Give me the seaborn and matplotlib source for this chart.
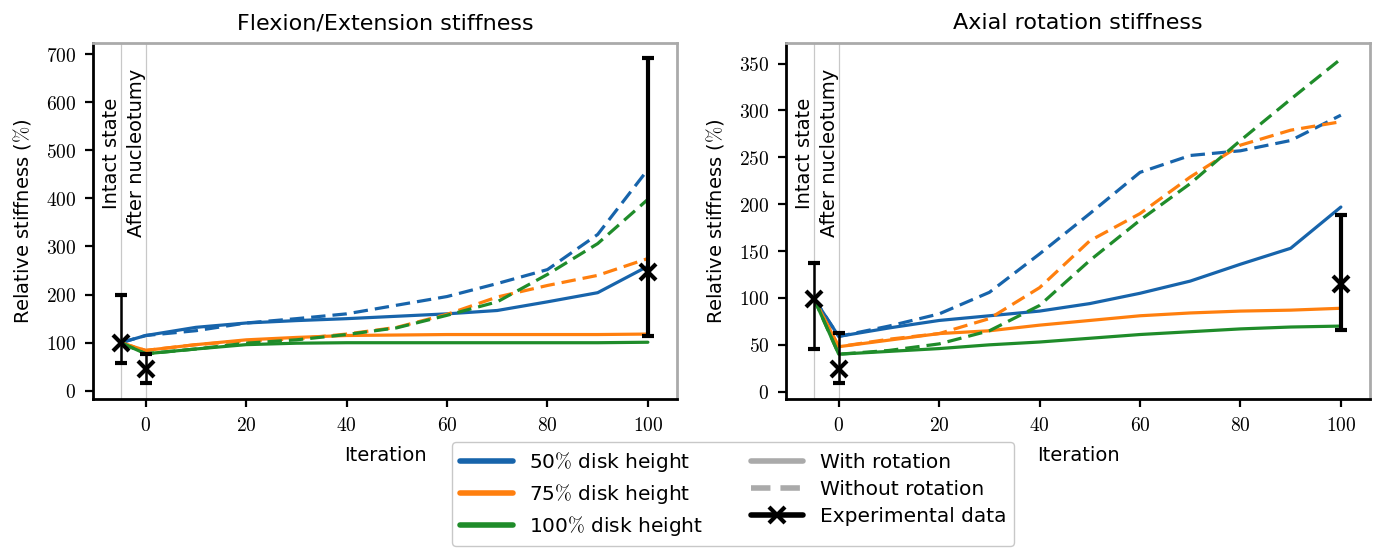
import matplotlib
matplotlib.use("Agg")
import matplotlib.pyplot as plt
from matplotlib.lines import Line2D
from matplotlib.ticker import FuncFormatter
import seaborn as sns
import pandas as pd

iterations = [-5, 0, 10, 20, 30, 40, 50, 60, 70, 80, 90, 100]
heights = ["50", "75", "100"]

# Flexion / Extension
fe_50_rot = [100, 115, 132, 141, 146, 150, 155, 160, 167, 185, 204, 259]
fe_50_norot = [100, 115, 125, 141, 150, 160, 178, 196, 223, 252, 325, 460]
fe_75_rot = [100, 84, 96, 106, 111, 115, 116, 117, 117, 117, 117, 118]
fe_75_norot = [100, 84, 96, 104, 108, 118, 132, 159, 195, 219, 240, 275]
fe_100_rot = [100, 77, 87, 96, 99, 100, 100, 100, 100, 100, 100, 101]
fe_100_norot = [100, 77, 87, 99, 106, 117, 131, 157, 185, 242, 306, 398]

# Axial rotation
ar_50_rot = [100, 59, 68, 76, 81, 86, 94, 105, 118, 136, 153, 197]
ar_50_norot = [100, 59, 70, 83, 106, 147, 190, 234, 252, 257, 268, 295]
ar_75_rot = [100, 48, 55, 62, 65, 71, 76, 81, 84, 86, 87, 89]
ar_75_norot = [100, 48, 56, 62, 78, 111, 161, 190, 229, 263, 279, 288]
ar_100_rot = [100, 40, 43, 46, 50, 53, 57, 61, 64, 67, 69, 70]
ar_100_norot = [100, 40, 44, 51, 65, 92, 140, 183, 222, 268, 312, 355]

# experimental data (mean, lower, upper)
exp_x = [-5, 0, 100]
fe_exp = [100, 45, 247]
fe_exp_low = [57, 17, 113]
fe_exp_high = [199, 77, 691]
ar_exp = [99, 24, 115]
ar_exp_low = [46, 9, 66]
ar_exp_high = [137, 63, 189]


def make_df(series):
    rows = []
    for (h, rot), vals in series.items():
        for it, v in zip(iterations, vals):
            rows.append({"iteration": it, "value": v, "height": h, "rotation": rot})
    return pd.DataFrame(rows)


fe_df = make_df({
    ("50", "With"): fe_50_rot, ("50", "Without"): fe_50_norot,
    ("75", "With"): fe_75_rot, ("75", "Without"): fe_75_norot,
    ("100", "With"): fe_100_rot, ("100", "Without"): fe_100_norot,
})
ar_df = make_df({
    ("50", "With"): ar_50_rot, ("50", "Without"): ar_50_norot,
    ("75", "With"): ar_75_rot, ("75", "Without"): ar_75_norot,
    ("100", "With"): ar_100_rot, ("100", "Without"): ar_100_norot,
})

sns.set_style("white")
plt.rcParams["font.family"] = ["DejaVu Sans"]
plt.rcParams["mathtext.fontset"] = "cm"
plt.rcParams["text.color"] = "black"
plt.rcParams["axes.labelcolor"] = "black"
plt.rcParams["xtick.color"] = "black"
plt.rcParams["ytick.color"] = "black"

colors = ["#1764ab", "#ff7f0e", "#1f8c2a"]
palette = dict(zip(heights, colors))
dashes = {"With": "", "Without": (4.5, 2.2)}

fig = plt.figure(figsize=(13.78, 5.49), dpi=100)
ax1 = fig.add_axes([0.0675, 0.2732, 0.4238, 0.6485])
ax2 = fig.add_axes([0.5704, 0.2732, 0.4238, 0.6485])

panels = [
    (ax1, fe_df, "Flexion/Extension stiffness", (-17, 723), range(0, 701, 100),
     fe_exp, fe_exp_low, fe_exp_high),
    (ax2, ar_df, "Axial rotation stiffness", (-7.8, 372), range(0, 351, 50),
     ar_exp, ar_exp_low, ar_exp_high),
]

for ax, df, title, ylim, yticks, ex, lo, hi in panels:
    ax.axvline(-5, color="#c8c8c8", lw=0.9, zorder=0)
    ax.axvline(0, color="#c8c8c8", lw=0.9, zorder=0)
    sns.lineplot(data=df, x="iteration", y="value", hue="height", style="rotation",
                 palette=palette, dashes=dashes, hue_order=heights,
                 lw=2.3, legend=False, ax=ax, zorder=3)
    # experimental data
    for i in range(len(exp_x)):
        ew = 3 if exp_x[i] == 100 else 1.8
        ax.errorbar([exp_x[i]], [ex[i]], yerr=[[ex[i] - lo[i]], [hi[i] - ex[i]]],
                    fmt="x", color="black", ms=12, mew=3, elinewidth=ew,
                    capsize=4, capthick=1.8, zorder=5)
    ax.text(-5, 0.69, "Intact state", rotation=90, ha="right", va="center",
            fontsize=14, transform=ax.get_xaxis_transform())
    ax.text(0, 0.69, "After nucleotumy", rotation=90, ha="right", va="center",
            fontsize=14, transform=ax.get_xaxis_transform())
    ax.set_xlim(-10.5, 105.8)
    ax.set_ylim(*ylim)
    ax.set_xticks([0, 20, 40, 60, 80, 100])
    ax.set_yticks(list(yticks))
    fmt = FuncFormatter(lambda v, p: f"${v:g}$")
    ax.xaxis.set_major_formatter(fmt)
    ax.yaxis.set_major_formatter(fmt)
    ax.tick_params(axis="both", direction="out", length=6, width=1.6,
                   color="black", labelsize=14, pad=6, left=True, bottom=True)
    ax.set_title(title, fontsize=16, pad=10)
    ax.set_xlabel("Iteration", fontsize=14, labelpad=8)
    ax.set_ylabel(r"Relative stiffness ($\%$)", fontsize=14, labelpad=9)
    for side in ["left", "bottom"]:
        ax.spines[side].set_color("black")
        ax.spines[side].set_linewidth(2)
    for side in ["top", "right"]:
        ax.spines[side].set_color("#aaaaaa")
        ax.spines[side].set_linewidth(2)

handles = [Line2D([], [], color=c, lw=4) for c in colors] + [
    Line2D([], [], color="#aaaaaa", lw=4),
    Line2D([], [], color="#aaaaaa", lw=4, ls=(0, (3.5, 1.8))),
    Line2D([], [], color="black", lw=4, marker="x", ms=12, mew=3),
]
labels = [r"50$\%$ disk height", r"75$\%$ disk height", r"100$\%$ disk height",
          "With rotation", "Without rotation", "Experimental data"]
fig.legend(handles, labels, loc="upper center", bbox_to_anchor=(0.532, 0.213), ncol=2,
           fontsize=14.5, frameon=True, edgecolor="#bbbbbb", handlelength=2.6,
           labelspacing=0.4, columnspacing=2.4, borderpad=0.4, fancybox=True)

fig.savefig("out.png", dpi=100)
